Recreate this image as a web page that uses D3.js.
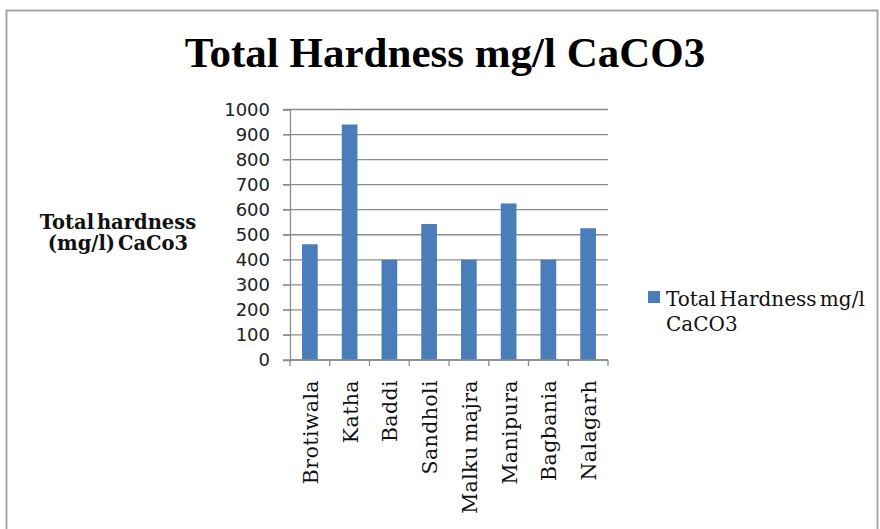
<!DOCTYPE html>
<html><head><meta charset="utf-8">
<script src="https://cdn.jsdelivr.net/npm/d3@7"></script>
<style>body{margin:0;background:#fff}svg{display:block}</style>
</head><body>
<svg id="c" width="880" height="529"></svg>
<script>
const categories = ["Brotiwala","Katha","Baddi","Sandholi","Malku majra","Manipura","Bagbania","Nalagarh"];
const values = [462, 940, 400, 543, 400, 625, 400, 526];
const yTicks = [0,100,200,300,400,500,600,700,800,900,1000];
const title = "Total Hardness mg/l CaCO3";
const yTitle = ["Total hardness", "(mg/l) CaCo3"];
const legendLines = ["Total Hardness mg/l", "CaCO3"];

const svg = d3.select("#c");
svg.append("rect").attr("x",6.5).attr("y",10.5).attr("width",871).attr("height",530)
  .attr("fill","#fff").attr("stroke","#a6a6a6").attr("stroke-width",2);

const L=290, R=608, T=109.5, B=360;
const x = d3.scaleBand().domain(categories).range([L,R]).paddingInner(0.605).paddingOuter(0.3025);
const y = d3.scaleLinear().domain([0,1000]).range([B,T]);
const cell = d3.scaleBand().domain(categories).range([L,R]);

// gridlines
svg.append("g").selectAll("line").data(yTicks).join("line")
  .attr("x1",L-7).attr("x2",R).attr("y1",d=>y(d)).attr("y2",d=>y(d))
  .attr("stroke","#8c8c8c").attr("stroke-width",1.3);

// y axis
const ya = svg.append("g").attr("transform",`translate(${L},0)`)
  .call(d3.axisLeft(y).tickValues(yTicks).tickFormat(d3.format("d")).tickSize(7).tickPadding(13));
ya.select(".domain").attr("stroke","#8c8c8c").attr("stroke-width",1.3);
ya.selectAll(".tick line").attr("stroke","#8c8c8c");
ya.selectAll("text").attr("font-family","DejaVu Sans, Verdana, sans-serif").attr("font-size",18).attr("fill","#222");

// bars
svg.append("g").selectAll("rect").data(values).join("rect")
  .attr("x",(d,i)=>x(categories[i])).attr("width",x.bandwidth())
  .attr("y",d=>y(d)).attr("height",d=>B-y(d)).attr("fill","#4A7EBB");

// x axis
const xa = svg.append("g").attr("transform",`translate(0,${B})`);
xa.append("line").attr("x1",L).attr("x2",R).attr("stroke","#8c8c8c").attr("stroke-width",1.3);
const bounds = categories.map(c=>cell(c)).concat([R]);
xa.selectAll("line.tk").data(bounds).join("line").attr("class","tk")
  .attr("x1",d=>d).attr("x2",d=>d).attr("y1",0).attr("y2",6).attr("stroke","#8c8c8c").attr("stroke-width",1.3);
xa.selectAll("text").data(categories).join("text")
  .attr("transform",d=>`translate(${cell(d)+cell.bandwidth()/2+8},20) rotate(-90)`)
  .attr("text-anchor","end")
  .attr("font-family","DejaVu Serif, serif").attr("font-size",20.5).attr("letter-spacing",0.4)
  .attr("word-spacing",-2.5)
  .attr("fill","#111").text(d=>d);

// title
svg.append("text").attr("x",445).attr("y",67).attr("text-anchor","middle")
  .attr("font-family","Liberation Serif, Times New Roman, serif").attr("font-weight","bold")
  .attr("font-size",43).attr("fill","#000").text(title);

// y title
svg.append("g").selectAll("text").data(yTitle).join("text")
  .attr("x",118).attr("y",(d,i)=>229+i*21).attr("text-anchor","middle")
  .attr("font-family","DejaVu Serif, serif").attr("font-weight","bold").attr("font-size",19.5)
  .attr("word-spacing",-4).attr("fill","#111").text(d=>d);

// legend
svg.append("rect").attr("x",648).attr("y",291).attr("width",12).attr("height",12).attr("fill","#4A7EBB");
svg.append("g").selectAll("text").data(legendLines).join("text")
  .attr("x",666).attr("y",(d,i)=>306+i*25)
  .attr("font-family","DejaVu Serif, serif").attr("font-size",20).attr("word-spacing",-3)
  .attr("fill","#111").text(d=>d);
</script>
</body></html>
